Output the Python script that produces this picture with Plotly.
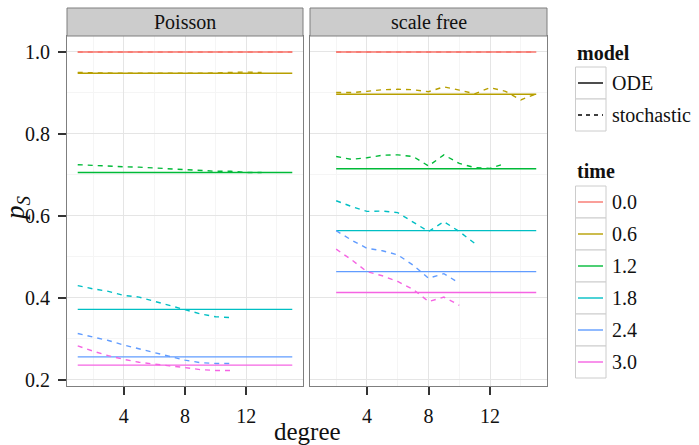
import plotly.graph_objects as go

# ---------------- data ----------------
times = ["0.0", "0.6", "1.2", "1.8", "2.4", "3.0"]
colors = ["#F8766D", "#B79F00", "#00BA38", "#00BFC4", "#619CFF", "#F564E3"]

# ODE (constant in degree)
ode_degree_poisson = [1, 15]
ode_degree_scalefree = [2, 15]
ode_poisson = [1.000, 0.948, 0.706, 0.372, 0.256, 0.236]
ode_scalefree = [1.000, 0.897, 0.715, 0.564, 0.464, 0.413]

# stochastic, Poisson network
poisson_deg_t00 = [1, 2, 3, 4, 5, 6, 7, 8, 9, 10, 11, 12, 13, 14, 15]
poisson_t00 = [1.000, 1.000, 1.000, 1.000, 1.000, 1.000, 1.000, 1.000, 1.000, 1.000, 1.000, 1.000, 1.000, 1.000, 1.000]
poisson_deg_t06 = [1, 2, 3, 4, 5, 6, 7, 8, 9, 10, 11, 12, 13]
poisson_t06 = [0.950, 0.949, 0.949, 0.948, 0.948, 0.948, 0.947, 0.948, 0.948, 0.949, 0.950, 0.951, 0.950]
poisson_deg_t12 = [1, 2, 3, 4, 5, 6, 7, 8, 9, 10, 11, 12, 13]
poisson_t12 = [0.725, 0.723, 0.721, 0.720, 0.719, 0.717, 0.715, 0.713, 0.710, 0.709, 0.709, 0.706, 0.706]
poisson_deg_t18 = [1, 2, 3, 4, 5, 6, 7, 8, 9, 10, 11]
poisson_t18 = [0.430, 0.422, 0.416, 0.406, 0.402, 0.392, 0.381, 0.372, 0.361, 0.354, 0.352]
poisson_deg_t24 = [1, 2, 3, 4, 5, 6, 7, 8, 9, 10, 11]
poisson_t24 = [0.313, 0.304, 0.296, 0.285, 0.276, 0.266, 0.257, 0.248, 0.242, 0.240, 0.240]
poisson_deg_t30 = [1, 2, 3, 4, 5, 6, 7, 8, 9, 10, 11]
poisson_t30 = [0.283, 0.270, 0.259, 0.250, 0.243, 0.238, 0.234, 0.230, 0.225, 0.223, 0.223]

# stochastic, scale-free network
sf_deg_t00 = [2, 3, 4, 5, 6, 7, 8, 9, 10, 11, 12, 13, 14, 15]
sf_t00 = [1.000, 1.000, 1.000, 1.000, 1.000, 1.000, 1.000, 1.000, 1.000, 1.000, 1.000, 1.000, 1.000, 1.000]
sf_deg_t06 = [2, 3, 4, 5, 6, 7, 8, 9, 10, 11, 12, 13, 14, 15]
sf_t06 = [0.901, 0.901, 0.904, 0.908, 0.909, 0.908, 0.903, 0.915, 0.907, 0.898, 0.913, 0.904, 0.883, 0.898]
sf_deg_t12 = [2, 3, 4, 5, 6, 7, 8, 9, 10, 11, 12, 13]
sf_t12 = [0.745, 0.738, 0.742, 0.748, 0.749, 0.745, 0.722, 0.749, 0.728, 0.718, 0.716, 0.728]
sf_deg_t18 = [2, 3, 4, 5, 6, 7, 8, 9, 10, 11]
sf_t18 = [0.637, 0.623, 0.611, 0.612, 0.608, 0.586, 0.562, 0.586, 0.562, 0.533]
sf_deg_t24 = [2, 3, 4, 5, 6, 7, 8, 9, 10]
sf_t24 = [0.564, 0.541, 0.521, 0.515, 0.505, 0.480, 0.448, 0.459, 0.436]
sf_deg_t30 = [2, 3, 4, 5, 6, 7, 8, 9, 10]
sf_t30 = [0.519, 0.493, 0.464, 0.454, 0.440, 0.421, 0.391, 0.402, 0.382]

x_ticks = [4, 8, 12]
x_minor = [2, 6, 10, 14]
y_ticks = [0.2, 0.4, 0.6, 0.8, 1.0]
y_ticktext = ["0.2", "0.4", "0.6", "0.8", "1.0"]
y_minor = [0.3, 0.5, 0.7, 0.9]
facets = ["Poisson", "scale free"]
models = ["ODE", "stochastic"]

poisson_deg = [poisson_deg_t00, poisson_deg_t06, poisson_deg_t12, poisson_deg_t18, poisson_deg_t24, poisson_deg_t30]
poisson_vals = [poisson_t00, poisson_t06, poisson_t12, poisson_t18, poisson_t24, poisson_t30]
sf_deg = [sf_deg_t00, sf_deg_t06, sf_deg_t12, sf_deg_t18, sf_deg_t24, sf_deg_t30]
sf_vals = [sf_t00, sf_t06, sf_t12, sf_t18, sf_t24, sf_t30]

# ---------------- layout helpers ----------------
W, H = 699, 445
FONT = "Liberation Serif, serif"
TXT = "#111111"
def fx(p):
    return p / W
def fy(p):
    return 1 - p / H

P1 = (67, 303)
P2 = (310, 547)
PT, PB = 36, 386

fig = go.Figure()

LW = 1.4
for i, t in enumerate(times):
    c = colors[i]
    fig.add_trace(go.Scatter(x=ode_degree_poisson, y=[ode_poisson[i], ode_poisson[i]], mode="lines",
                             line=dict(color=c, width=LW), xaxis="x", yaxis="y", showlegend=False,
                             hoverinfo="skip"))
    fig.add_trace(go.Scatter(x=poisson_deg[i], y=poisson_vals[i], mode="lines",
                             line=dict(color=c, width=LW, dash="5px,5px"), xaxis="x", yaxis="y",
                             showlegend=False, hoverinfo="skip"))
    fig.add_trace(go.Scatter(x=ode_degree_scalefree, y=[ode_scalefree[i], ode_scalefree[i]], mode="lines",
                             line=dict(color=c, width=LW), xaxis="x2", yaxis="y2", showlegend=False,
                             hoverinfo="skip"))
    fig.add_trace(go.Scatter(x=sf_deg[i], y=sf_vals[i], mode="lines",
                             line=dict(color=c, width=LW, dash="5px,5px"), xaxis="x2", yaxis="y2",
                             showlegend=False, hoverinfo="skip"))

xcommon = dict(range=[0.3, 15.7], tickmode="array", tickvals=x_ticks, ticktext=[str(v) for v in x_ticks],
               showgrid=True, gridcolor="#E5E5E5", gridwidth=1,
               minor=dict(tickmode="array", tickvals=x_minor, showgrid=True, gridcolor="#F5F5F5", gridwidth=1, ticks=""),
               showline=True, mirror=True, linecolor="#7F7F7F", linewidth=1,
               ticks="outside", ticklen=8, tickwidth=1.5, tickcolor="#333333",
               tickfont=dict(family=FONT, size=20, color=TXT), zeroline=False,
               fixedrange=True, ticklabelstandoff=4, automargin=False)
ycommon = dict(range=[0.185, 1.039], tickmode="array", tickvals=y_ticks, ticktext=y_ticktext,
               showgrid=True, gridcolor="#E5E5E5", gridwidth=1,
               minor=dict(tickmode="array", tickvals=y_minor, showgrid=True, gridcolor="#F5F5F5", gridwidth=1, ticks=""),
               showline=True, mirror=True, linecolor="#7F7F7F", linewidth=1,
               zeroline=False, fixedrange=True, automargin=False,
               domain=[fy(PB), fy(PT)])

fig.update_layout(
    width=W, height=H,
    margin=dict(l=0, r=0, t=0, b=0, pad=0),
    paper_bgcolor="white", plot_bgcolor="white",
    showlegend=False,
    font=dict(family=FONT, color=TXT),
    xaxis=dict(domain=[fx(P1[0]), fx(P1[1])], anchor="y", **xcommon),
    xaxis2=dict(domain=[fx(P2[0]), fx(P2[1])], anchor="y2", **xcommon),
    yaxis=dict(anchor="x", ticks="outside", ticklen=8, tickwidth=1.5, tickcolor="#333333",
               tickfont=dict(family=FONT, size=20, color=TXT), ticklabelstandoff=4, **ycommon),
    yaxis2=dict(anchor="x2", matches="y", showticklabels=False, ticks="", **ycommon),
)

shapes = []
annotations = []
for (x0, x1), name in zip([P1, P2], facets):
    shapes.append(dict(type="rect", xref="paper", yref="paper", x0=fx(x0), x1=fx(x1), y0=fy(PT), y1=fy(8),
                       fillcolor="#CCCCCC", line=dict(color="#7F7F7F", width=1), layer="above"))
    annotations.append(dict(text=name, xref="paper", yref="paper", x=fx((x0 + x1) / 2), y=fy(22),
                            showarrow=False, xanchor="center", yanchor="middle",
                            font=dict(family=FONT, size=20, color=TXT)))

annotations.append(dict(text="degree", xref="paper", yref="paper", x=fx((P1[0] + P2[1]) / 2), y=fy(431),
                        showarrow=False, xanchor="center", yanchor="middle",
                        font=dict(family=FONT, size=25, color=TXT)))
annotations.append(dict(text="<i>p<sub>S</sub></i>", xref="paper", yref="paper", x=fx(17), y=fy(208),
                        showarrow=False, xanchor="center", yanchor="middle", textangle=-90,
                        font=dict(family=FONT, size=27, color=TXT)))

KX0, KX1 = 575.5, 606
LX0, LX1 = 578, 603
TX = 610

def legend_title(text, ycen):
    annotations.append(dict(text="<b>" + text + "</b>", xref="paper", yref="paper", x=fx(575), y=fy(ycen),
                            showarrow=False, xanchor="left", yanchor="middle",
                            font=dict(family=FONT, size=20, color=TXT)))

def legend_item(label, y0, y1, color, dash):
    shapes.append(dict(type="rect", xref="paper", yref="paper", x0=fx(KX0), x1=fx(KX1), y0=fy(y1), y1=fy(y0),
                       fillcolor="white", line=dict(color="#CCCCCC", width=1)))
    yc = (y0 + y1) / 2
    shapes.append(dict(type="line", xref="paper", yref="paper", x0=fx(LX0), x1=fx(LX1), y0=fy(yc), y1=fy(yc),
                       line=dict(color=color, width=1.4, dash=dash)))
    annotations.append(dict(text=label, xref="paper", yref="paper", x=fx(TX), y=fy(yc),
                            showarrow=False, xanchor="left", yanchor="middle",
                            font=dict(family=FONT, size=20, color=TXT)))

legend_title("model", 53)
model_edges = [67, 99, 131]
for j, m in enumerate(models):
    legend_item(m, model_edges[j], model_edges[j + 1], "#000000", "solid" if j == 0 else "4px,4px")

legend_title("time", 171)
time_edges = [186, 218, 250, 282, 314, 346, 378]
for i, t in enumerate(times):
    legend_item(t, time_edges[i], time_edges[i + 1], colors[i], "solid")

fig.update_layout(shapes=shapes, annotations=annotations)

fig.write_html("out.html", config={"displayModeBar": False},
               post_script="document.body.style.margin='0';document.body.style.padding='0';")
